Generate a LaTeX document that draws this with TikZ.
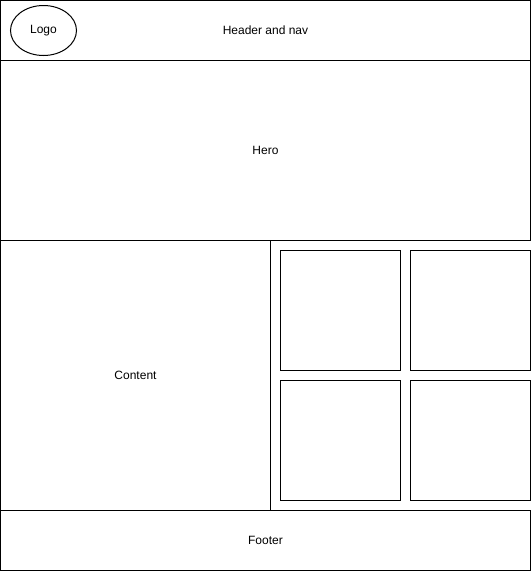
\documentclass[tikz,border=0pt]{standalone}
\usepackage{fontspec}
\setmainfont{Liberation Sans}
\usetikzlibrary{positioning,shapes.geometric}

\begin{document}
\begin{tikzpicture}[x=1pt, y=-1pt, line width=1pt,
    panel/.style={draw, rectangle, inner sep=0pt, outer sep=0pt, anchor=north west,
      font=\fontsize{12}{14}\selectfont},
    tile/.style={panel, minimum width=120pt, minimum height=120pt}]
    \useasboundingbox (-0.5,-0.5) rectangle (530.5,570.5);
    % page bands
    \node[panel, minimum width=530pt, minimum height=60pt] (header) at (0,0) {};
    \node[panel, minimum width=530pt, minimum height=180pt] (hero) at (0,60) {Hero};
    \node[panel, minimum width=270pt, minimum height=270pt] (content) at (0,240) {Content};
    \node[panel, minimum width=530pt, minimum height=60pt] (footer) at (0,510) {Footer};
    \node[font=\fontsize{12}{14}\selectfont] (nav) at (header.center) {Header and nav};
    % logo
    \node[draw, ellipse, inner sep=0pt, minimum width=66pt, minimum height=50pt,
      font=\fontsize{12}{14}\selectfont] (logo) at (43,30) {Logo};
    % side tiles
    \foreach \x/\y [count=\i] in {280/250, 410/250, 280/380, 410/380}
      \node[tile] (tile\i) at (\x,\y) {};
\end{tikzpicture}
\end{document}
